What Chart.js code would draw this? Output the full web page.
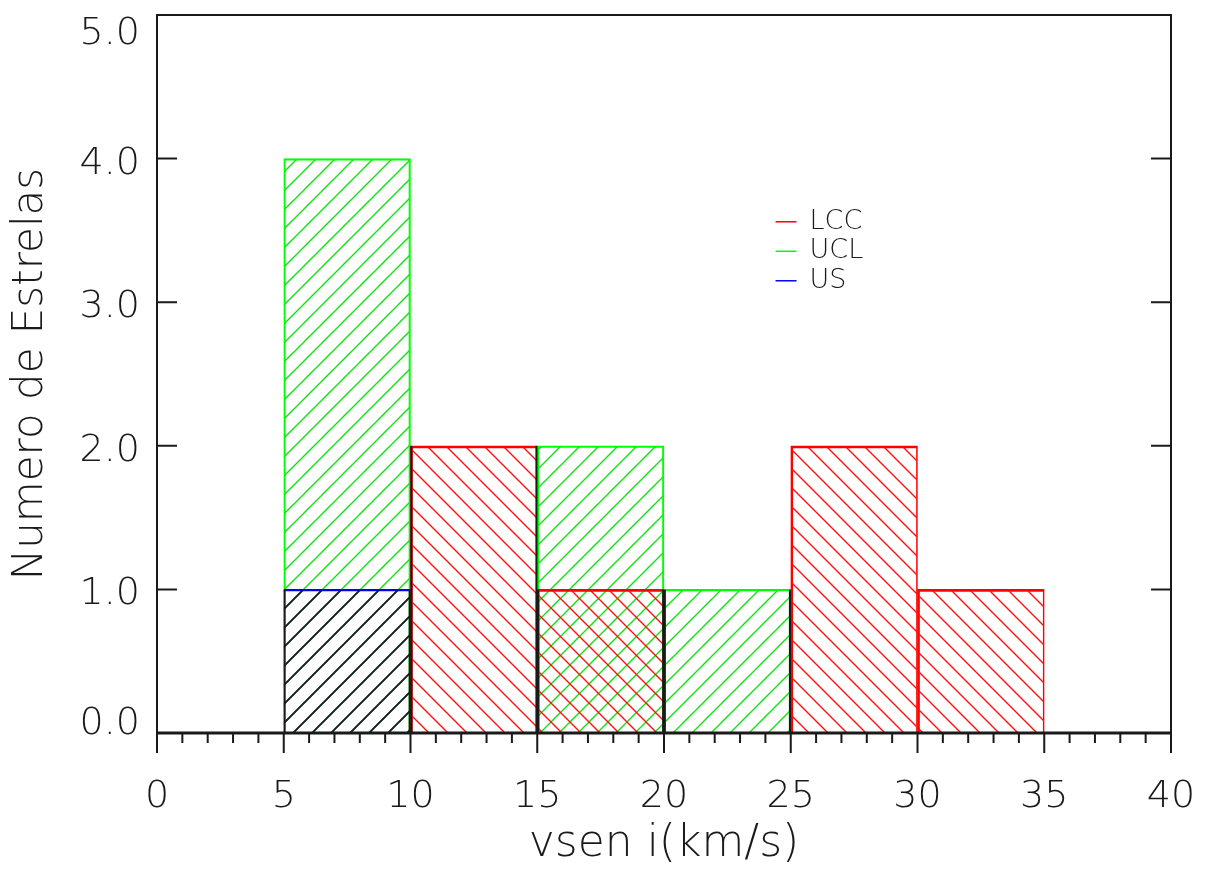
<!DOCTYPE html>
<html lang="pt"><head><meta charset="UTF-8"><title>Histograma vsen i</title>
<script src="https://cdn.jsdelivr.net/npm/chart.js"></script>
<style>
  html,body{margin:0;background:#fff;}
  #wrap{width:1206px;height:875px;}
</style>
</head><body>
<div id="wrap"><canvas id="hist" width="1206" height="875"></canvas></div>
<script>
// classes de 5 km/s (centros)
const binCenters = [7.5, 12.5, 17.5, 22.5, 27.5, 32.5];
const lcc = [0, 2, 1, 0, 2, 1];
const ucl = [4, 0, 2, 1, 0, 0];
const us  = [1, 0, 0, 0, 0, 0];
// contorno preto das primeiras classes
const contorno = [1, 2, 1, 1, 0, 0];
const yTicks = [0, 1, 2, 3, 4, 5];

const FONT = '"DejaVu Sans", sans-serif';
const INK = '#1a1a1a';

// padrao de hachura 45 graus
function hatch(color, dir, size, lw) {
  const c = document.createElement('canvas');
  c.width = c.height = size;
  const g = c.getContext('2d');
  g.strokeStyle = color;
  g.lineWidth = lw;
  g.beginPath();
  if (dir === '/') {
    for (const k of [0, size, 2 * size]) {
      g.moveTo(k - size - 2, size + 2);
      g.lineTo(k + 2, -2);
    }
  } else {
    for (const k of [-size, 0, size]) {
      g.moveTo(k - 2, -2);
      g.lineTo(k + size + 2, size + 2);
    }
  }
  g.stroke();
  return g.createPattern(c, 'repeat');
}

const toBars = arr => arr.map((v, i) => v ? {x: binCenters[i], y: v} : null).filter(Boolean);

const frame = {
  id: 'frame',
  afterDraw(chart) {
    const {ctx, chartArea: a, scales: {x, y}} = chart;
    ctx.save();
    ctx.strokeStyle = INK;
    ctx.lineWidth = 2;
    ctx.strokeRect(a.left, a.top, a.right - a.left, a.bottom - a.top);
    ctx.lineWidth = 3;
    ctx.beginPath();
    ctx.moveTo(a.left, a.bottom); ctx.lineTo(a.right, a.bottom);
    ctx.stroke();

    // marcas dos eixos
    ctx.lineWidth = 2;
    ctx.beginPath();
    for (let v = 0; v <= 40; v++) {
      const px = x.getPixelForValue(v);
      ctx.moveTo(px, a.bottom);
      ctx.lineTo(px, a.bottom + (v % 5 === 0 ? 20 : 10));
    }
    for (const v of yTicks) {
      const py = y.getPixelForValue(v);
      ctx.moveTo(a.left, py); ctx.lineTo(a.left + 20, py);
      ctx.moveTo(a.right, py); ctx.lineTo(a.right - 20, py);
    }
    ctx.stroke();

    // rotulos do eixo y, presos dentro da area
    ctx.fillStyle = INK;
    ctx.font = '200 38px ' + FONT;
    ctx.textAlign = 'right';
    ctx.textBaseline = 'alphabetic';
    const cap = 28;
    for (const v of yTicks) {
      let cy = y.getPixelForValue(v);
      cy = Math.min(Math.max(cy, a.top + cap / 2), a.bottom - cap / 2);
      ctx.fillText(v.toFixed(1), a.left - 17, cy + cap / 2 + 1);
    }

    // legenda
    const lx = x.getPixelForValue(24.4);
    let ly = y.getPixelForValue(3.56);
    ctx.font = '200 27px ' + FONT;
    ctx.textAlign = 'left';
    ctx.textBaseline = 'middle';
    ctx.lineWidth = 1.5;
    chart.data.datasets.slice(0, 3).forEach(ds => {
      ctx.strokeStyle = ds.legendColor;
      ctx.beginPath();
      ctx.moveTo(lx, ly); ctx.lineTo(lx + 21, ly);
      ctx.stroke();
      ctx.fillStyle = INK;
      ctx.fillText(ds.label, lx + 34, ly);
      ly += 29.5;
    });
    ctx.restore();
  }
};

new Chart(document.getElementById('hist'), {
  type: 'bar',
  data: {
    datasets: [
      { label: 'LCC', legendColor: '#ff0000', data: toBars(lcc),
        backgroundColor: hatch('#ff1010', '\\', 19, 1.4),
        borderColor: '#ff0000', borderWidth: {top: 2, left: 2, right: 1, bottom: 0},
        borderSkipped: false, order: 2 },
      { label: 'UCL', legendColor: '#00ff00', data: toBars(ucl),
        backgroundColor: hatch('#10e010', '/', 19, 1.4),
        borderColor: '#00ff00', borderWidth: {top: 1.5, left: 1.5, right: 1.5, bottom: 0},
        borderSkipped: false, order: 3 },
      { label: 'US', legendColor: '#0000ff', data: toBars(us),
        backgroundColor: hatch('#1a1a2a', '/', 19, 1.9),
        borderColor: '#0000ff', borderWidth: {top: 1.5, left: 0, right: 0, bottom: 0},
        borderSkipped: false, order: 1 },
      { label: 'contorno', data: toBars(contorno),
        backgroundColor: 'rgba(0,0,0,0)',
        borderColor: INK, borderWidth: {top: 0, left: 1.5, right: 1.5, bottom: 0},
        borderSkipped: false, order: 0 }
    ]
  },
  options: {
    responsive: false,
    devicePixelRatio: 1,
    animation: false,
    layout: { padding: { top: 15, right: 35, left: 0, bottom: 0 } },
    datasets: { bar: { grouped: false, barPercentage: 1, categoryPercentage: 1 } },
    plugins: { legend: { display: false }, tooltip: { enabled: false } },
    scales: {
      x: {
        type: 'linear', min: 0, max: 40, offset: false,
        grid: { display: false, drawTicks: false },
        border: { display: false },
        ticks: { stepSize: 5, padding: 41, color: INK, font: { family: FONT, size: 38, weight: 200 } },
        title: { display: true, text: 'vsen i(km/s)', color: INK,
                 padding: { top: 0, bottom: 4 }, font: { family: FONT, size: 44, weight: 200 } },
        afterFit(s) { s.height = 142; s.paddingLeft = 0; s.paddingRight = 0; }
      },
      y: {
        min: 0, max: 5,
        grid: { display: false, drawTicks: false },
        border: { display: false },
        ticks: { display: false, stepSize: 1 },
        title: { display: true, text: 'Numero de Estrelas', color: INK,
                 padding: { top: 6, bottom: 0 }, font: { family: FONT, size: 42, weight: 200 } },
        afterFit(s) { s.width = 157; }
      }
    }
  },
  plugins: [frame]
});
</script>
</body></html>
